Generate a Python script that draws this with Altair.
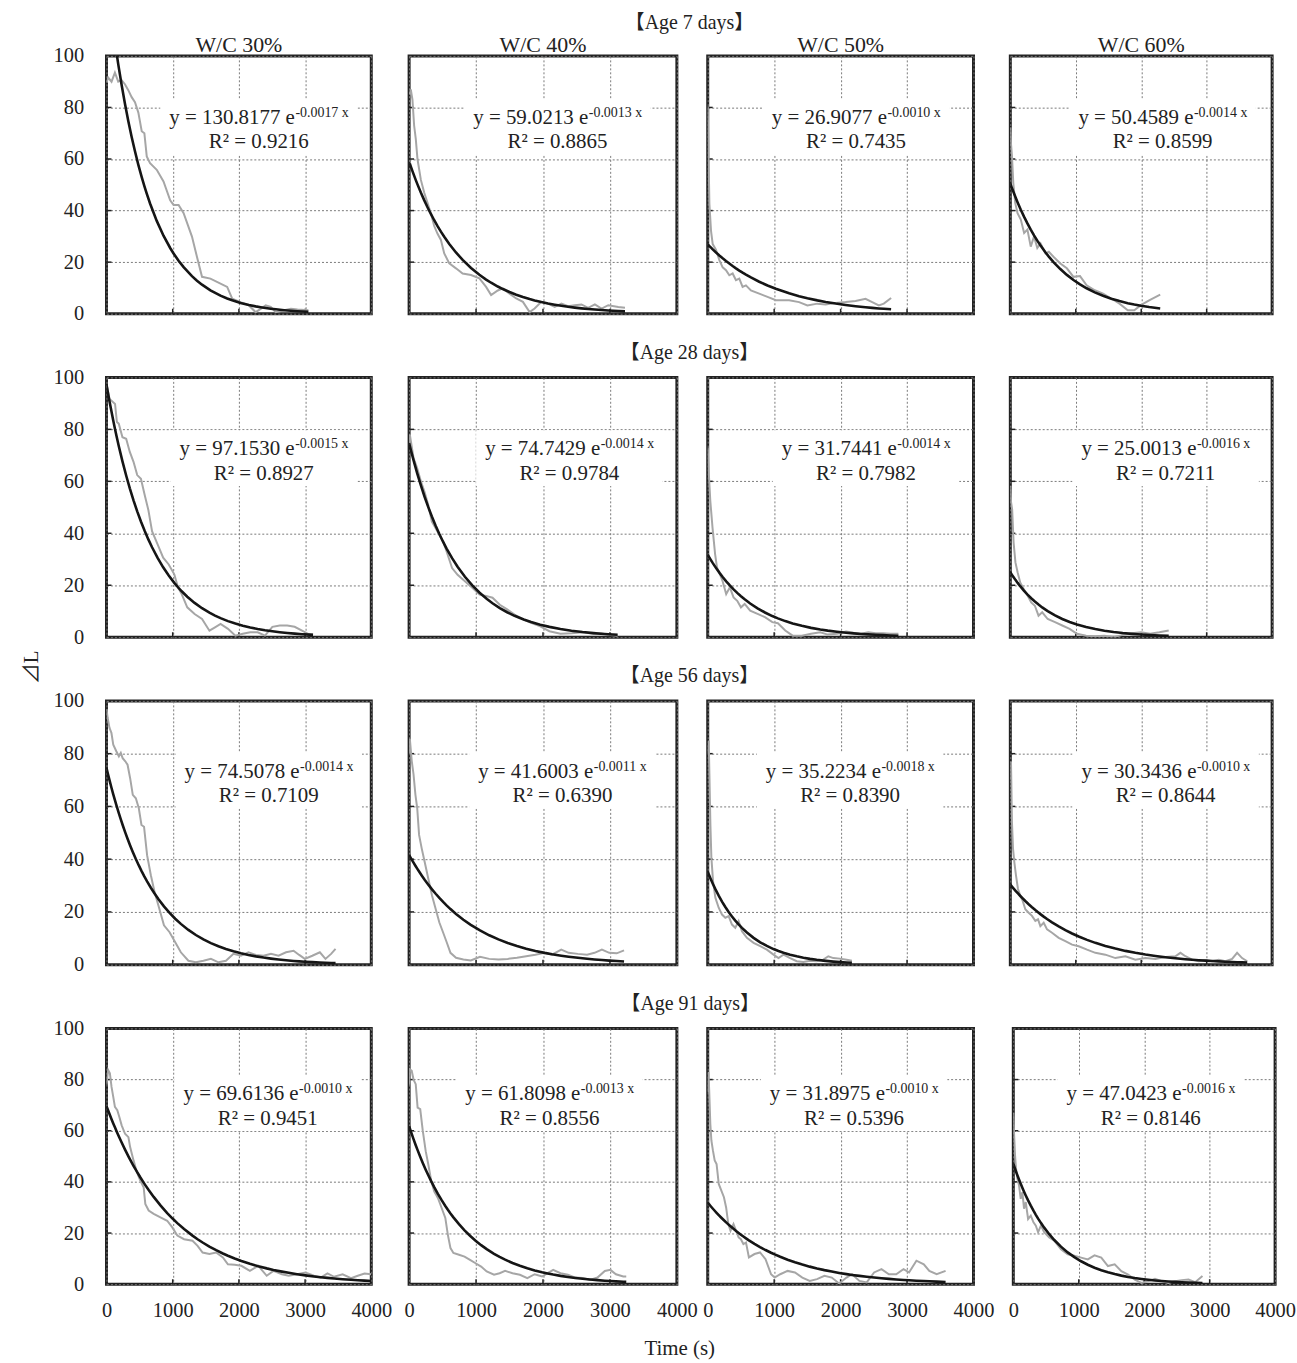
import altair as alt
import pandas as pd

# ---------------- data ----------------
AGE_TITLES = ["【Age 7 days】", "【Age 28 days】", "【Age 56 days】", "【Age 91 days】"]
WC_TITLES = ["W/C 30%", "W/C 40%", "W/C 50%", "W/C 60%"]
X_TICKS = [0, 1000, 2000, 3000, 4000]
Y_TICKS = [0, 20, 40, 60, 80, 100]

# exponential trendlines  y = a * e^(-b x)  and their R^2
FIT_A = [[130.8177, 59.0213, 26.9077, 50.4589],
         [97.1530, 74.7429, 31.7441, 25.0013],
         [74.5078, 41.6003, 35.2234, 30.3436],
         [69.6136, 61.8098, 31.8975, 47.0423]]
FIT_B = [[0.0017, 0.0013, 0.0010, 0.0014],
         [0.0015, 0.0014, 0.0014, 0.0016],
         [0.0014, 0.0011, 0.0018, 0.0010],
         [0.0010, 0.0013, 0.0010, 0.0016]]
FIT_R2 = [[0.9216, 0.8865, 0.7435, 0.8599],
          [0.8927, 0.9784, 0.7982, 0.7211],
          [0.7109, 0.6390, 0.8390, 0.8644],
          [0.9451, 0.8556, 0.5396, 0.8146]]

# measured curves: time (s) and ΔL
T07_30 = [0, 25, 76, 127, 177, 228, 278, 329, 380, 430, 481, 532, 572, 608, 658, 759, 861, 962, 1013, 1089,
          1165, 1291, 1367, 1443, 1570, 1722, 1823, 1899, 2025, 2152, 2253, 2329, 2405, 2481, 2557, 2684, 2785, 2886, 3050]
DL07_30 = [89.6, 91.6, 90.0, 93.5, 90.0, 90.6, 89.0, 86.7, 84.0, 82.0, 78.0, 70.8, 70.0, 61.0, 58.4, 55.8, 51.3, 44.0, 42.2, 42.2,
           39.0, 29.9, 22.0, 14.3, 13.6, 11.7, 10.4, 5.8, 4.5, 3.2, 0.6, 1.9, 3.2, 2.6, 0.6, 1.3, 1.9, 1.6, 1.3]
T07_40 = [10, 25, 50, 75, 100, 125, 175, 225, 275, 325, 375, 425, 475, 525, 600, 700, 800, 925, 1050, 1150,
          1225, 1325, 1400, 1500, 1600, 1700, 1800, 1875, 1975, 2075, 2175, 2275, 2375, 2475, 2575, 2675, 2775, 2875, 2975, 3125, 3225]
DL07_40 = [85, 87, 83, 73, 67.7, 60, 52, 47, 43, 39, 34, 31, 28.6, 23.4, 19.5, 17.6, 15.6, 15, 13.7, 10.4,
           7.2, 9, 9.8, 7.8, 5.9, 4.6, 0.65, 2, 4.6, 3.9, 2.6, 3.9, 2.9, 3.3, 3.6, 2.3, 3.6, 2, 3.3, 2.6, 2.3]
T07_50 = [0, 15, 25, 50, 75, 125, 175, 225, 275, 325, 375, 425, 475, 525, 575, 650, 775, 900, 1025, 1225,
          1375, 1500, 1650, 1775, 1925, 2075, 2225, 2375, 2475, 2575, 2650, 2760]
DL07_50 = [80.5, 58, 42.6, 32, 27, 24.7, 20.8, 18, 16.9, 14.9, 15.6, 13, 13.6, 10.4, 11, 9, 7.8, 6.5, 5.2, 5.2,
           4.5, 3.2, 3.9, 3.6, 4.2, 4.5, 4.9, 5.8, 4.5, 3.2, 3.9, 6.1]
T07_60 = [0, 10, 25, 45, 75, 110, 160, 211, 261, 312, 362, 412, 462, 538, 588, 663, 764, 864, 965, 1065,
          1166, 1291, 1417, 1543, 1668, 1794, 1894, 1995, 2121, 2290]
DL07_60 = [72.3, 66, 61.2, 50.8, 43, 39, 36.5, 31.3, 32.6, 26, 30, 25.5, 27.3, 23.4, 24, 22, 19.5, 17.6, 14.3, 14.6,
           11, 9.1, 7.8, 5.9, 3.9, 1.3, 1.3, 3.3, 5.2, 7.4]

T28_30 = [0, 17, 45, 101, 129, 157, 185, 241, 297, 352, 408, 464, 520, 576, 632, 688, 772, 856, 940, 1024,
          1080, 1136, 1220, 1331, 1443, 1555, 1639, 1723, 1835, 1947, 2059, 2171, 2283, 2394, 2506, 2618, 2730, 2842, 2954, 3066, 3120]
DL28_30 = [97, 95.5, 91.7, 90.4, 89.8, 82.8, 82.2, 77, 76.4, 71.3, 67.5, 62.4, 61, 54.8, 49, 40.8, 35.7, 30.6, 28, 24.2,
           19.1, 16.6, 11.5, 8.9, 7, 2.5, 3.8, 5.1, 3.2, 0.6, 1.3, 1.9, 1.9, 0.6, 4, 4.5, 4.5, 4, 2.5, 1, 1]
T28_40 = [0, 11, 27, 66, 121, 176, 230, 285, 340, 395, 450, 505, 560, 642, 724, 834, 944, 1053, 1163, 1246,
          1355, 1465, 1575, 1712, 1822, 1959, 2096, 2261, 2425, 2590, 2754, 2864, 2974, 3115]
DL28_40 = [74, 78, 75.4, 69, 65, 60, 56, 51, 44.5, 42, 39.4, 37, 33, 26.6, 24, 21.5, 19, 16.4, 15.8, 15.2,
           12.5, 10.7, 8.7, 6.8, 5.5, 4.2, 2.3, 1.3, 1.5, 1.9, 1.3, 1.5, 0.9, 0.6]
T28_50 = [0, 17, 39, 72, 111, 139, 183, 222, 278, 333, 389, 444, 500, 556, 639, 750, 861, 972, 1056, 1167,
          1278, 1417, 1556, 1694, 1806, 1944, 2083, 2194, 2306, 2417, 2528, 2639, 2750, 2870]
DL28_50 = [73, 62.7, 52.4, 42.2, 32, 26.9, 24.3, 21.7, 16.6, 19.2, 15.3, 14, 11.5, 12.8, 10.2, 9, 7.7, 5.8, 5.4, 2.6,
           0.6, 0.6, 1.3, 1.9, 1, 1.3, 2.2, 1.7, 1.3, 1.9, 1.5, 1.5, 1.3, 1.3]
T28_60 = [0, 11, 28, 50, 78, 112, 151, 207, 263, 319, 375, 431, 487, 571, 683, 794, 906, 1018, 1158, 1298,
          1438, 1578, 1717, 1857, 1997, 2137, 2277, 2420]
DL28_60 = [58.2, 52, 49.2, 36.4, 28.8, 24.9, 21.1, 18.5, 16, 13.4, 12.1, 8.3, 9.6, 7, 5.8, 4.5, 3.2, 1.3, 0.6, 0.4,
           0.6, 0, 0.9, 1.5, 1.9, 1.3, 1.9, 2.6]

T56_30 = [0, 17, 45, 74, 102, 148, 187, 216, 244, 284, 318, 357, 397, 443, 488, 528, 567, 613, 670, 726,
          783, 868, 953, 1038, 1123, 1237, 1350, 1464, 1577, 1691, 1804, 1918, 2031, 2145, 2258, 2372, 2485, 2599, 2712, 2826,
          2911, 2996, 3109, 3223, 3308, 3393, 3460]
DL56_30 = [97, 93.6, 89.8, 87.9, 83.4, 80.9, 79, 80.3, 78.3, 77.1, 75.8, 70.7, 64.4, 63.1, 59.3, 52.95, 52.3, 41.5, 33.9, 27.6,
           22.5, 14.9, 12.3, 8.5, 4.7, 1.5, 0.9, 1.5, 2.2, 0.9, 1.5, 4.1, 3.4, 4.7, 3.7, 3.4, 4.1, 3.4, 4.7, 5.3,
           3.7, 2.2, 3.4, 4.7, 2.2, 4.1, 6]
T56_40 = [0, 11, 39, 66, 94, 121, 149, 188, 232, 287, 342, 397, 452, 508, 563, 618, 701, 811, 921, 1059,
          1197, 1335, 1473, 1611, 1749, 1887, 2025, 2135, 2273, 2383, 2521, 2659, 2770, 2880, 2990, 3101, 3211]
DL56_40 = [80, 85.6, 77.3, 72.2, 64.5, 59.4, 49.2, 44.1, 39, 32.6, 26.2, 21.1, 16, 12.2, 8.4, 4.5, 2.6, 2, 1.6, 3,
           2.2, 2, 2.2, 2.6, 3.2, 3.8, 4.5, 3.8, 5.7, 4.5, 4.1, 3.8, 4.5, 5.7, 4.5, 4.3, 5.4]
T56_50 = [0, 15, 25, 40, 55, 80, 115, 165, 215, 265, 315, 365, 415, 465, 515, 590, 690, 790, 890, 990,
          1065, 1140, 1240, 1340, 1440, 1540, 1640, 1740, 1815, 1890, 1990, 2090, 2170]
DL56_50 = [80, 85, 72.4, 53.3, 40.6, 31.7, 25.4, 21.6, 19, 17.8, 18.4, 15.2, 14, 16.5, 12.7, 10.2, 8.3, 7, 5.7, 3.8,
           2.5, 3.8, 2.5, 1.3, 1, 1.5, 1.3, 1.9, 3.2, 2.5, 2.3, 1.9, 1.5]
T56_60 = [0, 10, 25, 41, 61, 87, 117, 153, 189, 229, 280, 331, 382, 423, 459, 510, 561, 637, 739, 841,
          943, 1045, 1172, 1299, 1452, 1605, 1758, 1911, 2064, 2217, 2369, 2522, 2599, 2675, 2777, 2879, 2981, 3083, 3185, 3287,
          3389, 3465, 3541, 3620]
DL56_60 = [70, 77, 54, 44, 38.9, 33.8, 28.7, 26.1, 24.2, 21, 19.7, 18.5, 16.6, 17.2, 14.6, 15.9, 13.4, 12.1, 10.2, 8.9,
           7.6, 7, 5.7, 4.5, 3.8, 2.5, 3.2, 1.9, 2.5, 2.2, 2.9, 3.2, 4.5, 3.2, 1.9, 1.3, 1.7, 1.3, 1.9, 1.3,
           2.2, 4.5, 2.5, 1.3]

T91_30 = [0, 10, 25, 51, 76, 102, 127, 163, 194, 229, 280, 331, 357, 408, 459, 510, 561, 586, 637, 713, 815,
          917, 994, 1070, 1172, 1299, 1376, 1452, 1554, 1656, 1758, 1834, 1936, 2038, 2166, 2293, 2420, 2522, 2650, 2752, 2879,
          3006, 3134, 3236, 3338, 3439, 3567, 3694, 3796, 3898, 4000]
DL91_30 = [78, 80.4, 83.7, 82.4, 77.1, 73.2, 69.3, 68, 65.4, 62.1, 58.8, 57.5, 53.6, 48.4, 43.8, 40.5, 37.9, 31.4, 28.8, 27.5, 26.1,
           24.8, 22.2, 19, 17.6, 17, 15, 12.4, 11.8, 12.4, 10.5, 7.8, 7.6, 7.2, 5.2, 7.2, 3.3, 5.2, 3.9, 3.3, 3.9,
           4.6, 3.3, 2.6, 4.2, 2.9, 3.9, 2.4, 3.3, 4.2, 3.9]
T91_40 = [0, 11, 39, 66, 99, 127, 166, 204, 248, 287, 331, 375, 430, 486, 541, 579, 618, 662, 745, 828, 910,
          993, 1076, 1159, 1269, 1352, 1434, 1545, 1655, 1766, 1876, 1986, 2069, 2152, 2262, 2372, 2483, 2593, 2703, 2814, 2924,
          3007, 3090, 3200, 3244]
DL91_40 = [78, 84, 83.4, 80, 78.2, 69, 68.4, 60, 52, 46.8, 40.3, 36.3, 33.7, 29.8, 25.9, 19.3, 14.1, 12.2, 11.5, 10.8, 9.5,
           8.2, 6.9, 5, 3.7, 4.3, 5.2, 4.3, 3.7, 2.4, 3.9, 3, 4.3, 5.6, 4.3, 3.7, 2.6, 2.4, 1.7, 2.6, 5.2,
           5.6, 3.9, 3, 3]
T91_50 = [0, 11, 22, 39, 55, 78, 105, 133, 166, 205, 244, 277, 310, 343, 388, 427, 465, 499, 537, 576, 620,
          704, 787, 870, 953, 1008, 1091, 1202, 1313, 1424, 1535, 1645, 1756, 1867, 1978, 2089, 2172, 2283, 2393, 2504, 2615,
          2726, 2837, 2947, 3030, 3141, 3252, 3335, 3446, 3580]
DL91_50 = [75, 83, 75.8, 62.7, 56.2, 52.3, 48.4, 47, 39.2, 36.6, 34, 30, 23.5, 20.9, 23.5, 20.9, 18.3, 17.6, 15.7, 16.3, 10.5,
           11.8, 12.4, 9.8, 3.9, 2.6, 3.9, 5.2, 4.6, 2.6, 1.3, 2, 3.3, 2.6, 0.3, 2.6, 3.9, 1.3, 0.7, 4.6, 5.9,
           3.9, 3.9, 5.9, 4.6, 9.2, 7.8, 5.2, 3.9, 5.2]
T91_60 = [0, 10, 26, 41, 62, 87, 113, 138, 164, 190, 226, 267, 308, 344, 379, 421, 472, 549, 626, 728,
          831, 933, 1036, 1138, 1241, 1344, 1446, 1549, 1651, 1754, 1856, 1959, 2062, 2164, 2267, 2369, 2472, 2574, 2677, 2779, 2890]
DL91_60 = [67, 59.7, 50.5, 45.3, 41.3, 38.7, 33.4, 36, 29.5, 32.1, 25.5, 26.8, 24.2, 22.9, 20.3, 22.9, 20.3, 18.3, 17, 13.7,
           11.7, 11.1, 10.4, 9.7, 11.3, 10.4, 7.1, 7.8, 5.1, 3.8, 1.8, 0.5, 1.2, 2.1, 1.2, 0.5, 1.2, 1.6, 1.8, 0.8, 3.2]

T_ALL = [[T07_30, T07_40, T07_50, T07_60], [T28_30, T28_40, T28_50, T28_60],
         [T56_30, T56_40, T56_50, T56_60], [T91_30, T91_40, T91_50, T91_60]]
DL_ALL = [[DL07_30, DL07_40, DL07_50, DL07_60], [DL28_30, DL28_40, DL28_50, DL28_60],
          [DL56_30, DL56_40, DL56_50, DL56_60], [DL91_30, DL91_40, DL91_50, DL91_60]]

# ---------------- layout / style ----------------
FONT = "Liberation Serif, Times New Roman, DejaVu Serif, Noto Sans CJK JP"
INK = "#222222"
PANEL_W = [266, 269, 267, 263]
PANEL_H = [259, 261, 265, 257]
HSPACE = [33, 26, 32]          # rows without x labels
HSPACE_LAST = [9, 2, 11]       # bottom row (x labels widen the bounds)
VSPACE = 17
EQ_CX = [[153, 149, 149, 153], [158, 161, 159, 156], [163, 154, 143, 156], [162, 141, 147, 138]]
EQ_BASE = [68, 78, 77, 72]
EQ_FS, SUP_FS = 21, 14
# Times-like advance widths (per 1000 em) to place the superscript
ADV = {" ": 250, ".": 250, "=": 564, "y": 500, "e": 444, "x": 500, "-": 333}


def text_w(s, fs):
    return sum(ADV.get(ch, 500) for ch in s) * fs / 1000.0


def panel(r, c):
    w, h = PANEL_W[c], PANEL_H[r]
    a, b, r2 = FIT_A[r][c], FIT_B[r][c], FIT_R2[r][c]
    df = pd.DataFrame({"t": T_ALL[r][c], "dl": DL_ALL[r][c]})
    xs = alt.Scale(domain=[0, 4000], nice=False, zero=False)
    ys = alt.Scale(domain=[0, 100], nice=False)
    xaxis = alt.Axis(values=X_TICKS, grid=True, labels=(r == 3), title=None, ticks=False, tickSize=0,
                     domain=False, labelPadding=16, labelFlush=False, labelOverlap=False, format="d")
    yaxis = alt.Axis(values=Y_TICKS, grid=True, labels=(c == 0), title=None, ticks=False, tickSize=0,
                     domain=False, labelPadding=23, labelFlush=False, labelOverlap=False, format="d")
    X = alt.X("t:Q", scale=xs, axis=xaxis)
    Y = alt.Y("dl:Q", scale=ys, axis=yaxis)

    eq_main = f"y = {a:.4f} e"
    eq_sup = f"-{b:.4f} x"
    eq_r2 = f"R² = {r2:.4f}"
    wm, ws = text_w(eq_main, EQ_FS), text_w(eq_sup, SUP_FS)
    cx, by = EQ_CX[r][c], EQ_BASE[r]
    left = cx - (wm + ws) / 2.0
    split = left + wm
    right = split + ws
    lab = pd.DataFrame({"eq": [eq_main], "sup": [eq_sup], "r2": [eq_r2]})

    box = alt.Chart(lab).mark_rect(color="white").encode(
        x=alt.value(left - 9), x2=alt.value(right + 9), y=alt.value(by - 25), y2=alt.value(by + 31))
    xt = alt.Chart(pd.DataFrame({"t": X_TICKS[1:-1]})).mark_rule(color=INK, strokeWidth=1.5).encode(
        x=X, y=alt.value(h), y2=alt.value(h - 5))
    yt = alt.Chart(pd.DataFrame({"dl": Y_TICKS[1:-1]})).mark_rule(color=INK, strokeWidth=1.5).encode(
        y=Y, x=alt.value(0), x2=alt.value(5))
    meas = alt.Chart(df).mark_line(color="#a6a6a6", strokeWidth=2, clip=True).encode(x=X, y=Y, order="t:Q")
    fit = alt.Chart(df).transform_calculate(
        fit=f"{a} * exp(-{b} * datum.t)").mark_line(color="#151515", strokeWidth=2.6, clip=True).encode(
        x=X, y=alt.Y("fit:Q", scale=ys, axis=yaxis), order="t:Q")
    t1 = alt.Chart(lab).mark_text(align="right", baseline="alphabetic", font=FONT, fontSize=EQ_FS, color=INK).encode(
        text="eq:N", x=alt.value(split), y=alt.value(by))
    t2 = alt.Chart(lab).mark_text(align="left", baseline="alphabetic", font=FONT, fontSize=SUP_FS, color=INK).encode(
        text="sup:N", x=alt.value(split + 0.5), y=alt.value(by - 7))
    t3 = alt.Chart(lab).mark_text(align="center", baseline="alphabetic", font=FONT, fontSize=EQ_FS, color=INK).encode(
        text="r2:N", x=alt.value(cx), y=alt.value(by + 25))

    layer = alt.layer(box, xt, yt, meas, fit, t1, t2, t3).properties(width=w, height=h)
    if r == 0:
        layer = layer.properties(title=alt.TitleParams(WC_TITLES[c], fontSize=22, anchor="middle", frame="group",
                                                       offset=(-11 if c == 0 else -1), font=FONT,
                                                       fontWeight="normal", color=INK))
    return layer


rows = []
for r in range(4):
    p = [panel(r, c) for c in range(4)]
    sp = HSPACE_LAST if r == 3 else HSPACE
    left_pair = alt.hconcat(p[0], p[1], spacing=sp[0])
    right_pair = alt.hconcat(p[2], p[3], spacing=sp[2])
    row = alt.hconcat(left_pair, right_pair, spacing=sp[1]).properties(
        title=alt.TitleParams(AGE_TITLES[r], fontSize=20, anchor="middle", font=FONT, fontWeight="normal",
                              color=INK, offset=(0 if r == 0 else 3), dx=(16 if r == 3 else 27)))
    rows.append(row)

grid = alt.vconcat(*rows, spacing=VSPACE).properties(
    title=alt.TitleParams("⊿L", orient="left", anchor="middle", fontSize=21, font=FONT, fontWeight="normal",
                          color=INK, offset=10))

chart = alt.vconcat(grid).properties(
    title=alt.TitleParams("Time (s)", orient="bottom", anchor="middle", fontSize=21, font=FONT,
                          fontWeight="normal", color=INK, offset=16, dx=21),
    padding={"left": 20, "top": 9, "right": 0, "bottom": 0},
    background="white",
).configure_view(stroke=INK, strokeWidth=3).configure_axis(
    gridColor="#7a7a7a", gridDash=[2, 2], gridWidth=1, labelFont=FONT, labelFontSize=20.5, labelColor=INK
).configure_title(font=FONT, fontWeight="normal", color=INK)

chart.save("out.html", embed_options={"renderer": "svg", "actions": False})
